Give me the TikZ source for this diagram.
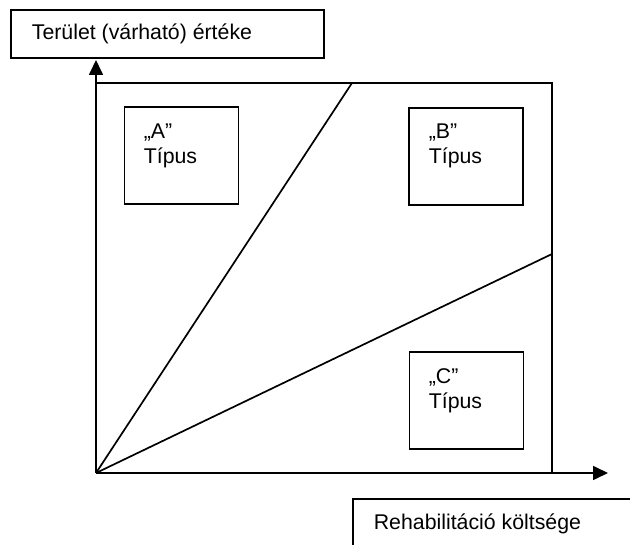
\documentclass[tikz,border=0pt]{standalone}
\usepackage{fontspec}
\setmainfont{Liberation Sans}
\usetikzlibrary{arrows.meta}
\begin{document}
\begin{tikzpicture}[x=1pt,y=-1pt,
  line width=1.7pt,
  txt/.style={font=\fontsize{21.3}{25}\selectfont, inner sep=0pt, anchor=base west, align=left},
  frame/.style={draw, line width=1.7pt},
  typebox/.style={draw, line width=1.7pt, minimum width=114pt, minimum height=97pt, inner sep=0pt},
  axis/.style={-{Triangle[length=15pt,width=14pt]}, line width=1.7pt}]
  \useasboundingbox (0,0) rectangle (630,545);
  \clip (0,0) rectangle (630,545);

  % axis captions
  \draw[frame] (11,10) rectangle (324,58);
  \node[txt] (ylab) at (31,40) {Terület (várható) értéke};
  \draw[frame] (353,499) rectangle (660,580);
  \node[txt] (xlab) at (373,530) {Rehabilitáció költsége};

  % origin, corners and axis ends
  \coordinate (O) at (96,473);
  \coordinate (ytip) at (96,60);
  \coordinate (xtip) at (608,473);
  \coordinate (TR) at (552,83);
  \coordinate (d1) at (352,83);
  \coordinate (d2) at (552,254);

  % outer square and axes
  \draw (O) |- (TR) |- (O);
  \draw[axis] (O) -- (ytip);
  \draw[axis] (O) -- (xtip);

  % dividing lines
  \draw (O) -- (d1);
  \draw (O) -- (d2);

  % type boxes (text anchored at the baseline of the second line)
  \node[typebox] (boxA) at (181.5,155.5) {};
  \node[typebox] (boxB) at (466,156.5) {};
  \node[typebox] (boxC) at (466.5,400.5) {};
  \node[txt] (txtA) at (143,164) {„A”\\Típus};
  \node[txt] (txtB) at (428,164) {„B”\\Típus};
  \node[txt] (txtC) at (428,409) {„C”\\Típus};
\end{tikzpicture}
\end{document}
